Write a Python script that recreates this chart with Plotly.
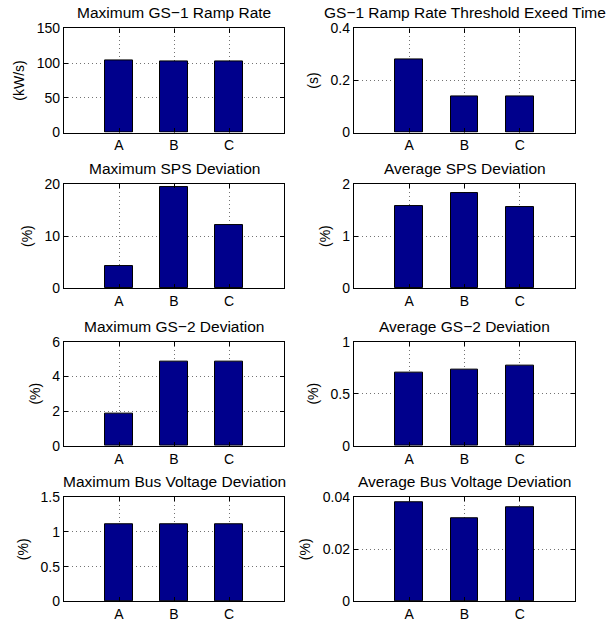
import plotly.graph_objects as go

categories = ["A", "B", "C"]
cat_pos = [1, 2, 3]

titles = [
    "Maximum GS\u22121 Ramp Rate", "GS\u22121 Ramp Rate Threshold Exeed Time",
    "Maximum SPS Deviation", "Average SPS Deviation",
    "Maximum GS\u22122 Deviation", "Average GS\u22122 Deviation",
    "Maximum Bus Voltage Deviation", "Average Bus Voltage Deviation",
]
ylabels = ["(kW/s)", "(s)", "(%)", "(%)", "(%)", "(%)", "(%)", "(%)"]

max_gs1_ramp = [104, 103, 103]
gs1_exceed_time = [0.28, 0.139, 0.139]
max_sps_dev = [4.17, 19.5, 12.2]
avg_sps_dev = [1.57, 1.83, 1.56]
max_gs2_dev = [1.87, 4.82, 4.87]
avg_gs2_dev = [0.70, 0.732, 0.765]
max_bus_dev = [1.113, 1.113, 1.113]
avg_bus_dev = [0.0382, 0.0319, 0.0360]

series = [max_gs1_ramp, gs1_exceed_time, max_sps_dev, avg_sps_dev,
          max_gs2_dev, avg_gs2_dev, max_bus_dev, avg_bus_dev]

yranges = [[0, 150], [0, 0.4], [0, 20], [0, 2], [0, 6], [0, 1], [0, 1.5], [0, 0.04]]
yticks = [[0, 50, 100, 150], [0, 0.2, 0.4], [0, 10, 20], [0, 1, 2],
          [0, 2, 4, 6], [0, 0.5, 1], [0, 0.5, 1, 1.5], [0, 0.02, 0.04]]
yticktext = [["0", "50", "100", "150"], ["0", "0.2", "0.4"], ["0", "10", "20"], ["0", "1", "2"],
             ["0", "2", "4", "6"], ["0", "0.5", "1"], ["0", "0.5", "1", "1.5"], ["0", "0.02", "0.04"]]

W, H = 613, 622
col_x = [(64, 284), (354, 575)]
row_y = [(21, 128), (181, 288), (343, 450), (503, 610)]

FONT = "Liberation Sans, Arial, Helvetica, sans-serif"
fig = go.Figure()
annotations = []
layout = {}
for i, vals in enumerate(series):
    r, c = divmod(i, 2)
    xa = "x" if i == 0 else f"x{i+1}"
    ya = "y" if i == 0 else f"y{i+1}"
    fig.add_trace(go.Bar(
        x=cat_pos, y=vals, width=0.5, xaxis=xa, yaxis=ya,
        marker=dict(color="rgb(0,0,140)", line=dict(color="black", width=1)),
        showlegend=False, hoverinfo="skip",
    ))
    x0, x1 = col_x[c]
    y0, y1 = row_y[r]
    dx = [x0 / W, x1 / W]
    dy = [1 - y1 / H, 1 - y0 / H]
    common = dict(showline=True, linecolor="black", linewidth=1.3, mirror="ticks",
                  ticks="inside", ticklen=4, tickcolor="black", tickwidth=1,
                  showgrid=True, gridcolor="rgba(0,0,0,0.55)", griddash="1px,3px", gridwidth=1,
                  zeroline=False, tickfont=dict(family=FONT, size=14, color="black"))
    layout["xaxis" if i == 0 else f"xaxis{i+1}"] = dict(
        domain=dx, anchor=ya, range=[0, 4], tickmode="array",
        tickvals=cat_pos, ticktext=categories, fixedrange=True, **common)
    layout["yaxis" if i == 0 else f"yaxis{i+1}"] = dict(
        domain=dy, anchor=xa, range=yranges[i], tickmode="array",
        tickvals=yticks[i], ticktext=yticktext[i], fixedrange=True,
        title=dict(text=ylabels[i], font=dict(family=FONT, size=14, color="black"), standoff=8),
        **common)
    annotations.append(dict(
        text=titles[i], x=(dx[0] + dx[1]) / 2, y=dy[1], xref="paper", yref="paper",
        xanchor="center", yanchor="bottom", yshift=5, showarrow=False,
        font=dict(family=FONT, size=15.5, color="black")))

fig.update_layout(
    width=W, height=H, margin=dict(l=0, r=0, t=0, b=0),
    paper_bgcolor="white", plot_bgcolor="white",
    annotations=annotations, bargap=0, **layout)

fig.write_html("out.html", config={"displayModeBar": False},
               post_script="document.body.style.margin='0';")
